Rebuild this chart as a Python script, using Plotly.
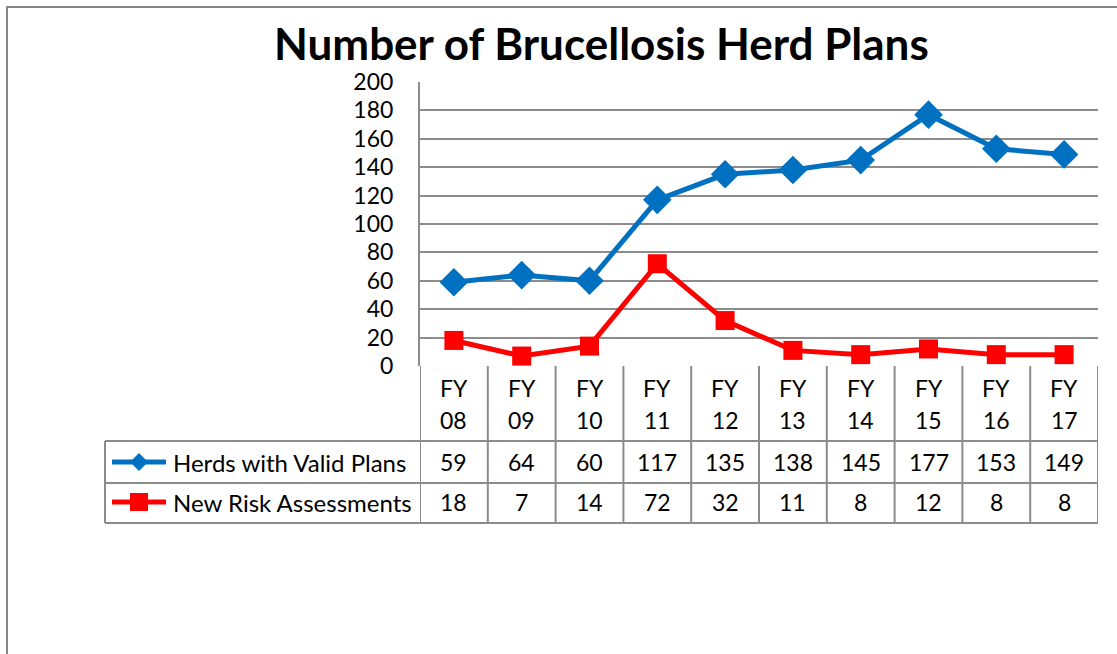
import plotly.graph_objects as go

categories = ["FY 08", "FY 09", "FY 10", "FY 11", "FY 12", "FY 13", "FY 14", "FY 15", "FY 16", "FY 17"]
herds_valid = [59, 64, 60, 117, 135, 138, 145, 177, 153, 149]
new_risk = [18, 7, 14, 72, 32, 11, 8, 12, 8, 8]
series_names = ["Herds with Valid Plans", "New Risk Assessments"]
y_ticks = [0, 20, 40, 60, 80, 100, 120, 140, 160, 180, 200]

W, H = 1117, 654
FONT = "Lato"
GRID = "#8c8c8c"
BLUE = "#0070C0"
RED = "#FF0000"
FS = 23


def px(x):
    return x / W


def py(y):
    return 1 - y / H


fig = go.Figure()
idx = list(range(len(categories)))
fig.add_trace(go.Scatter(x=idx, y=herds_valid, mode="lines+markers", name=series_names[0],
                         line=dict(color=BLUE, width=5),
                         marker=dict(symbol="diamond", size=22, color=BLUE),
                         cliponaxis=False))
fig.add_trace(go.Scatter(x=idx, y=new_risk, mode="lines+markers", name=series_names[1],
                         line=dict(color=RED, width=5),
                         marker=dict(symbol="square", size=19, color=RED),
                         cliponaxis=False))

shapes = []
ann = []


def text_ann(x, y, text, xref="paper", xanchor="center", size=FS):
    ann.append(dict(x=x, y=y, xref=xref, yref="paper", text=text, showarrow=False,
                    xanchor=xanchor, yanchor="middle",
                    font=dict(size=size, color="black", family=FONT)))


# outer border
shapes.append(dict(type="rect", xref="paper", yref="paper", x0=px(7), x1=px(1140), y0=py(7), y1=py(680),
                   line=dict(color="#868686", width=2)))

# table lines
L, R = 105, 1098
for yy in [441, 483, 523]:
    shapes.append(dict(type="line", xref="paper", yref="paper", x0=px(L), x1=px(R), y0=py(yy), y1=py(yy),
                       line=dict(color=GRID, width=2)))
shapes.append(dict(type="line", xref="paper", yref="paper", x0=px(L), x1=px(L), y0=py(441), y1=py(523),
                   line=dict(color=GRID, width=2)))
for i in range(len(categories) + 1):
    shapes.append(dict(type="line", xref="x", yref="paper", x0=i - 0.5, x1=i - 0.5, y0=py(366), y1=py(523),
                       line=dict(color=GRID, width=2)))

# header text and values
for i, c in enumerate(categories):
    a, b = c.split(" ")
    text_ann(i, py(388), a, xref="x")
    text_ann(i, py(420), b, xref="x")
    text_ann(i, py(462), str(herds_valid[i]), xref="x")
    text_ann(i, py(502), str(new_risk[i]), xref="x")

# legend keys
for yy, color, kind, name in [(462, BLUE, "diamond", series_names[0]), (502, RED, "square", series_names[1])]:
    shapes.append(dict(type="line", xref="paper", yref="paper", x0=px(112), x1=px(166), y0=py(yy), y1=py(yy),
                       line=dict(color=color, width=5)))
    cx = 139
    if kind == "diamond":
        d = 9
        path = (f"M {px(cx-d)},{py(yy)} L {px(cx)},{py(yy-d)} L {px(cx+d)},{py(yy)} "
                f"L {px(cx)},{py(yy+d)} Z")
    else:
        d = 9
        path = (f"M {px(cx-d)},{py(yy-d)} L {px(cx+d)},{py(yy-d)} L {px(cx+d)},{py(yy+d)} "
                f"L {px(cx-d)},{py(yy+d)} Z")
    shapes.append(dict(type="path", xref="paper", yref="paper", path=path, fillcolor=color,
                       line=dict(color=color, width=0)))
    text_ann(px(171), py(yy), name, xanchor="left", size=24)

# title
text_ann(px(602), py(43), "<b>Number of Brucellosis Herd Plans</b>", size=44)

fig.update_layout(
    template="none",
    width=W, height=H,
    autosize=False,
    margin=dict(l=0, r=0, t=0, b=0, pad=0, autoexpand=False),
    paper_bgcolor="white", plot_bgcolor="white",
    showlegend=False,
    font=dict(family=FONT, color="black"),
    xaxis=dict(domain=[px(420), px(1098)], range=[-0.5, len(categories) - 0.5], automargin=False,
               showticklabels=False, showgrid=False, zeroline=False, showline=False, ticks=""),
    yaxis=dict(domain=[py(366), py(82)], range=[0, 200], tickvals=y_ticks, automargin=False,
               showgrid=True, gridcolor=GRID, gridwidth=2, zeroline=False,
               showline=True, linecolor=GRID, linewidth=2, ticks="",
               tickfont=dict(size=FS, color="black", family=FONT), ticklabelstandoff=20),
    shapes=shapes, annotations=ann,
)

fig.write_html("out.html", config={"displayModeBar": False},
               post_script="document.body.style.margin='0';document.body.style.overflow='hidden';")
